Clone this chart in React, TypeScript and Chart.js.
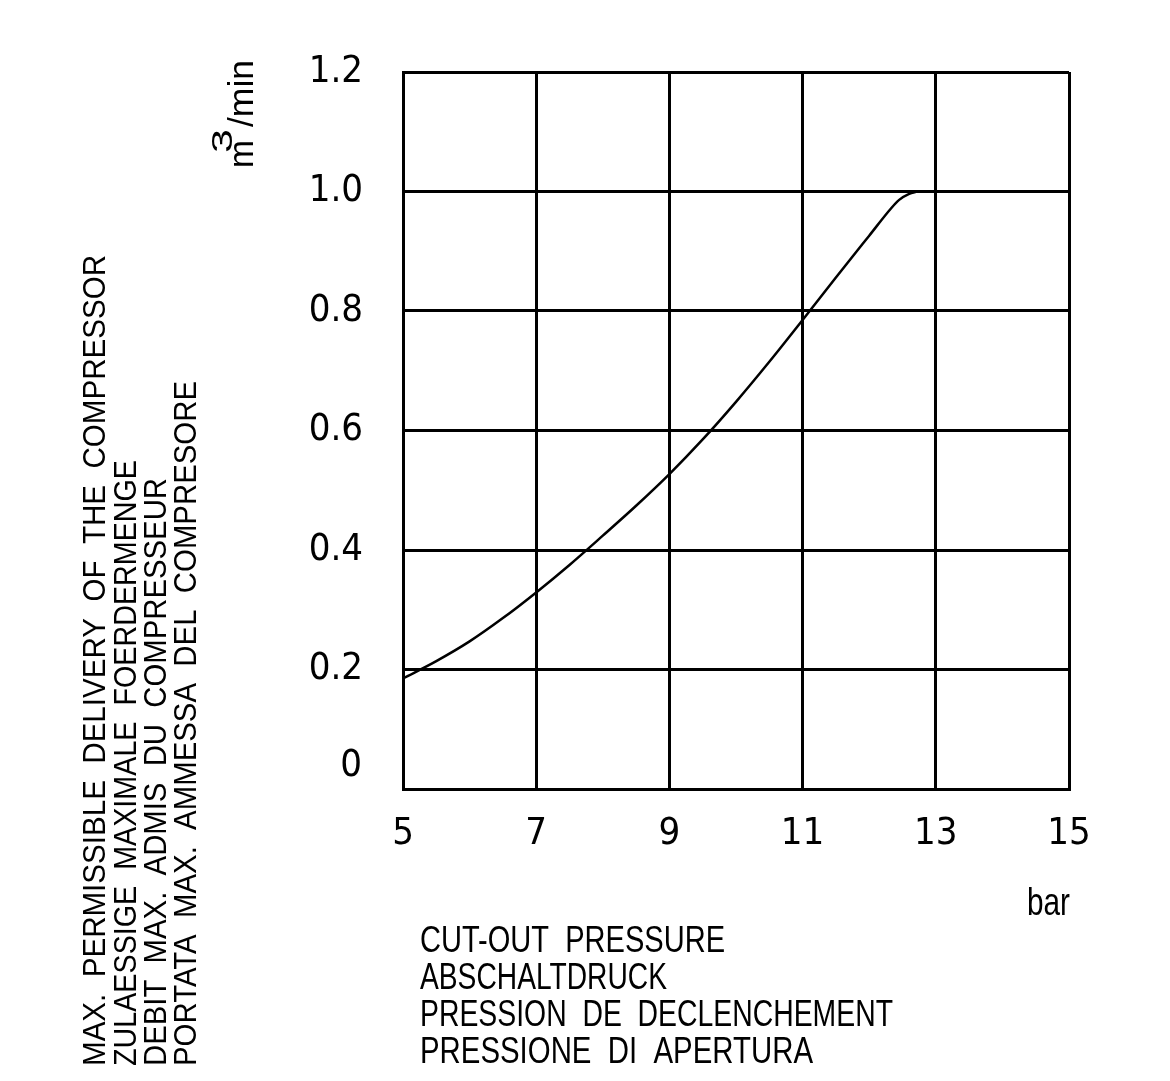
import React, { useEffect, useRef } from 'react';
import { Chart, registerables } from 'chart.js';

Chart.register(...registerables);

// ---- data ----
const pressureBar = [5, 5.5, 6, 6.5, 7, 7.5, 8, 8.5, 9, 9.5, 10, 10.5, 11, 11.5, 12, 12.33, 12.45, 12.6, 12.72];
const deliveryM3min = [0.185, 0.214, 0.247, 0.286, 0.329, 0.375, 0.424, 0.474, 0.527, 0.585, 0.648, 0.715, 0.785, 0.856, 0.926, 0.972, 0.986, 0.996, 1.0];
const xTickValues = [5, 7, 9, 11, 13, 15];
const yTickValues = [0, 0.2, 0.4, 0.6, 0.8, 1.0, 1.2];
const yTitleLines = [
  'MAX.  PERMISSIBLE  DELIVERY  OF  THE  COMPRESSOR',
  'ZULAESSIGE  MAXIMALE  FOERDERMENGE',
  'DEBIT  MAX.  ADMIS  DU  COMPRESSEUR',
  'PORTATA  MAX.  AMMESSA  DEL  COMPRESORE',
];
const xTitleLines = [
  'CUT-OUT  PRESSURE',
  'ABSCHALTDRUCK',
  'PRESSION  DE  DECLENCHEMENT',
  'PRESSIONE  DI  APERTURA',
];
const xUnit = 'bar';
const yUnitParts = ['m', '3', '/min'];

// ---- style ----
const NARROW = '"Liberation Sans Narrow", "DejaVu Sans Condensed", "Liberation Sans", sans-serif';
const PLAIN = '"Liberation Sans", Arial, sans-serif';

function fitText(
  ctx: CanvasRenderingContext2D,
  text: string,
  x: number,
  y: number,
  size: number,
  width: number,
  rotate: boolean
) {
  ctx.save();
  ctx.translate(x, y);
  if (rotate) ctx.rotate(-Math.PI / 2);
  ctx.font = `${size}px ${PLAIN}`;
  ctx.textAlign = 'left';
  ctx.textBaseline = 'alphabetic';
  ctx.fillStyle = '#000';
  const w = ctx.measureText(text).width;
  ctx.scale(width / w, 1);
  ctx.fillText(text, 0, 0);
  ctx.restore();
}

const textPlugin = {
  id: 'cadTexts',
  afterDraw(chart: any) {
    const ctx: CanvasRenderingContext2D = chart.ctx;
    const ys = chart.scales.y;
    // y-axis title (rotated, 4 lines)
    const colBase = [105, 136, 166, 196];
    const colLen = [811, 606, 588, 685];
    yTitleLines.forEach((t, i) => fitText(ctx, t, colBase[i], 1066, 32, colLen[i], true));
    // x-axis title (4 lines)
    const rowBase = [952, 989, 1026, 1063];
    const rowLen = [305, 247, 473, 393];
    xTitleLines.forEach((t, i) => fitText(ctx, t, 420, rowBase[i], 37, rowLen[i], false));
    // unit "bar"
    fitText(ctx, xUnit, 1027, 915, 38, 43, false);
    // unit m3/min rotated
    fitText(ctx, yUnitParts[0], 253, 168, 35, 28, true);
    fitText(ctx, yUnitParts[1], 232, 153, 30, 24, true);
    fitText(ctx, yUnitParts[2], 253, 127, 35, 67, true);
    // zero label of y axis (drawn slightly above its line, as in the drawing)
    ctx.save();
    ctx.font = `38px ${NARROW}`;
    ctx.textAlign = 'right';
    ctx.textBaseline = 'middle';
    ctx.fillStyle = '#000';
    ctx.fillText('0', 362, ys.getPixelForValue(0) - 23);
    ctx.restore();
  },
};

export default function App() {
  const canvasRef = useRef<HTMLCanvasElement | null>(null);

  useEffect(() => {
    const canvas = canvasRef.current;
    if (!canvas) return;
    const chart = new Chart(canvas, {
      type: 'line',
      data: {
        datasets: [
          {
            label: 'delivery',
            data: pressureBar.map((p, i) => ({ x: p, y: deliveryM3min[i] })),
            borderColor: '#000',
            borderWidth: 2.5,
            pointRadius: 0,
            fill: false,
            cubicInterpolationMode: 'monotone',
          },
        ],
      },
      options: {
        responsive: false,
        animation: false,
        events: [],
        layout: { padding: { top: 72, right: 101, bottom: 0, left: 0 } },
        plugins: { legend: { display: false }, tooltip: { enabled: false }, title: { display: false } },
        scales: {
          x: {
            type: 'linear',
            min: 5,
            max: 15,
            afterBuildTicks: (s: any) => {
              s.ticks = xTickValues.map((v) => ({ value: v }));
            },
            afterFit: (s: any) => {
              s.height = 292;
            },
            ticks: {
              color: '#000',
              font: { family: NARROW, size: 38 },
              padding: 22,
              maxRotation: 0,
              autoSkip: false,
              callback: (v: any) => String(v),
            },
            grid: { color: '#000', lineWidth: 3, drawTicks: false },
            border: { display: true, color: '#000', width: 3 },
          },
          y: {
            type: 'linear',
            min: 0,
            max: 1.2,
            afterBuildTicks: (s: any) => {
              s.ticks = yTickValues.map((v) => ({ value: v }));
            },
            afterFit: (s: any) => {
              s.width = 403;
            },
            ticks: {
              color: '#000',
              font: { family: NARROW, size: 38 },
              padding: 40,
              autoSkip: false,
              callback: (v: any) => (Number(v) === 0 ? '' : Number(v).toFixed(1)),
            },
            grid: { color: '#000', lineWidth: 3, drawTicks: false },
            border: { display: true, color: '#000', width: 3 },
          },
        },
      },
      plugins: [textPlugin],
    } as any);
    return () => chart.destroy();
  }, []);

  return (
    <div style={{ position: 'absolute', left: 0, top: 0, width: 1170, height: 1081, background: '#fff' }}>
      <canvas ref={canvasRef} width={1170} height={1081} style={{ display: 'block', width: 1170, height: 1081 }} />
    </div>
  );
}
